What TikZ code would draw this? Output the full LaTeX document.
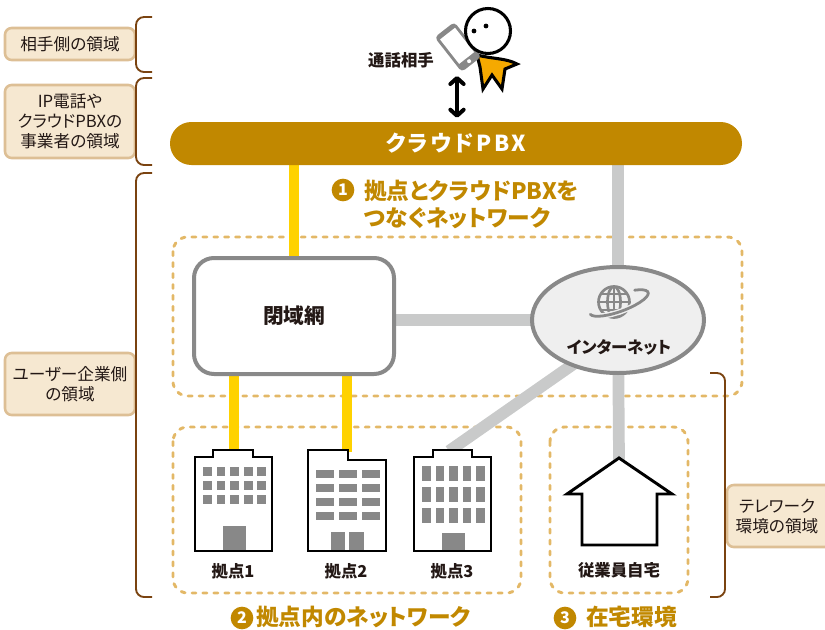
\documentclass[tikz,border=0pt]{standalone}
\usepackage{fontspec}
\setmainfont{Noto Sans CJK JP}[RawFeature=+palt]
\usetikzlibrary{arrows.meta,shapes.geometric,calc}
\pgfdeclarelayer{back}
\pgfdeclarelayer{links}
\pgfsetlayers{back,links,main}

\definecolor{pbxbrown}{HTML}{C18800}
\definecolor{ink}{HTML}{231815}
\definecolor{dashtan}{HTML}{E3B867}
\definecolor{tagfill}{HTML}{F6E8D1}
\definecolor{tagline}{HTML}{DDBF95}
\definecolor{bracebrown}{HTML}{7A4310}
\definecolor{linkyellow}{HTML}{FFD200}
\definecolor{linkgrey}{HTML}{C9CACA}
\definecolor{boxgrey}{HTML}{898989}
\definecolor{wingrey}{HTML}{888888}
\definecolor{netfill}{HTML}{EFEFEF}
\definecolor{bodyorange}{HTML}{F5A900}

\tikzset{
  tag/.style={draw=tagline, fill=tagfill, line width=1.9pt, rounded corners=5pt,
    minimum width=97.5pt, inner sep=0pt, align=center, text=ink,
    font=\fontsize{12.5}{15}\selectfont},
  brace/.style={draw=bracebrown, line width=1.4pt, rounded corners=6pt},
  zone/.style={draw=dashtan, line width=2.2pt, line cap=round,
    dash pattern=on 3pt off 5.2pt, rounded corners=11pt},
  yellowlink/.style={draw=linkyellow, line width=8.2pt},
  greylink/.style={draw=linkgrey, line width=8.8pt},
  heading/.style={text=pbxbrown, align=left, inner sep=0pt,
    font=\bfseries\fontsize{17}{20.5}\selectfont},
  numdot/.style={circle, fill=pbxbrown, text=white, minimum size=17pt, inner sep=0pt,
    font=\bfseries\fontsize{12}{12}\selectfont},
  caption/.style={text=ink, inner sep=0pt, font=\bfseries\fontsize{12.3}{14}\selectfont},
  building/.style={draw=black, fill=white, line width=2pt, line join=miter},
  pane/.style={fill=wingrey},
}

\begin{document}
\begin{tikzpicture}[x=0.75pt, y=-0.75pt]
\useasboundingbox (0,0) rectangle (825,629);
\clip (0,0) rectangle (825,629);

% ---------- side tags and brackets ----------
\node[tag, minimum height=24pt] (tagpeer) at (70,44) {相手側の領域};
\node[tag, minimum height=54.75pt] (tagvendor) at (70,121.5) {IP電話や\\クラウドPBXの\\事業者の領域};
\node[tag, minimum height=46.5pt] (taguser) at (70,384) {ユーザー企業側\\の領域};
\node[tag, minimum width=90pt, minimum height=46.5pt] (tagtele) at (787,516) {};
\node[text=ink, align=center, inner sep=0pt, font=\fontsize{12.5}{15}\selectfont] (tagteletext) at (777,516) {テレワーク\\環境の領域};

\draw[brace] (152,17) -- (136,17) -- (136,72) -- (152,72);
\draw[brace] (152,78) -- (136,78) -- (136,165) -- (152,165);
\draw[brace] (152,173) -- (136,173) -- (136,597) -- (152,597);
\draw[brace] (710,373) -- (725,373) -- (725,597) -- (710,597);

% ---------- dashed zones ----------
\begin{pgfonlayer}{back}
\draw[zone] (173,237) rectangle (742,396);
\draw[zone] (173,427) rectangle (521,593);
\draw[zone] (550,427) rectangle (688,593);
\end{pgfonlayer}

% ---------- main nodes ----------
\node[fill=pbxbrown, rounded corners=16pt, minimum width=429pt, minimum height=32.25pt,
  text=white, font=\bfseries\fontsize{16.5}{16.5}\selectfont] (pbx) at (456,143.5)
  {\addfontfeatures{LetterSpace=12}クラウドPBX};

\node[draw=boxgrey, fill=white, line width=3pt, rounded corners=15pt,
  minimum width=150pt, minimum height=87pt, text=ink,
  font=\bfseries\fontsize{15.5}{16}\selectfont] (closed) at (294,316) {閉域網};

\node[ellipse, draw=boxgrey, fill=netfill, line width=3pt, minimum width=129pt,
  minimum height=79.5pt, inner sep=0pt] (inet) at (618,320) {};
\node[text=ink, inner sep=0pt, font=\bfseries\fontsize{12.3}{14}\selectfont] (inetlabel) at (619,347) {インターネット};

% globe icon
\begin{scope}[draw=wingrey, line width=2pt]
  \draw (614,302) circle[radius=15.5];
  \draw (614,302) ellipse[x radius=6.5, y radius=15.5];
  \draw (614,286.5) -- (614,317.5);
  \draw (598.5,302) -- (629.5,302);
  \draw (601,294) -- (627,294);
  \draw (601,310) -- (627,310);
  \begin{scope}[shift={(619,303)}, rotate=20]
    \draw[netfill, line width=4.2pt] (160:31 and 8.5) arc[start angle=160, end angle=-45, x radius=31, y radius=8.5];
    \draw[line width=2.1pt, line cap=round] (174:31 and 8.5) arc[start angle=174, end angle=-52, x radius=31, y radius=8.5];
  \end{scope}
\end{scope}

% ---------- caller ----------
\node[caption] (callerlabel) at (401,60) {通話相手};
\draw[fill=bodyorange, line width=2.3pt, line join=miter, miter limit=4]
  (477,55) .. controls (492,59) and (506,58) .. (517,64)
  -- (505,69) -- (502,89) -- (492,75) -- (483,89) -- (480,67) -- cycle;
\begin{scope}[shift={(458,47)}, rotate=38]
  \fill[wingrey, rounded corners=3pt] (-12.5,-22) rectangle (12.5,22);
  \fill[white] (-9.5,-17) rectangle (9.5,14);
  \fill[white] (0,18) circle[radius=2];
\end{scope}
\draw[fill=white, line width=2.3pt] (488,31) circle[radius=22.5];
\fill (474,31) circle[radius=2.4];
\fill (486,26) circle[radius=2.4];
\coordinate (callpoint) at (457,76);

% ---------- buildings ----------
\draw[building] (195,551) -- (195,457) -- (213,457) -- (213,450) -- (253,450)
  -- (253,457) -- (272,457) -- (272,551) -- cycle;
\foreach \i in {0,...,4} \foreach \j in {0,1,2}
  \fill[pane] ({203+13.6*\i},{467+14*\j}) rectangle ++(8.8,8.5);
\fill[pane] (223,526) rectangle (246,550);
\coordinate (roofone) at (234,450);
\node[caption] (siteone) at (233,571) {拠点1};

\draw[building] (308,551) -- (308,450) -- (348,450) -- (348,460)
  -- (386,460) -- (386,551) -- cycle;
\foreach \x in {316,339,362} \foreach \j in {0,...,3}
  \fill[pane] (\x,{470+14*\j}) rectangle ++(18,8);
\fill[pane] (331,532) rectangle (345,550);
\fill[pane] (349,532) rectangle (364,550);
\coordinate (rooftwo) at (347,452);
\node[caption] (sitetwo) at (346,571) {拠点2};

\draw[building] (414,551) -- (414,457) -- (433,457) -- (433,450) -- (472,450)
  -- (472,457) -- (491,457) -- (491,551) -- cycle;
\foreach \i in {0,...,4} \foreach \j in {0,1,2}
  \fill[pane] ({422+13.6*\i},{466+21*\j}) rectangle ++(8.5,15);
\fill[pane] (442,533) rectangle (465,550);
\coordinate (roofthree) at (449,451);
\node[caption] (sitethree) at (452,571) {拠点3};

% ---------- home ----------
\draw[fill=white, line width=2.2pt, line join=miter]
  (582,545) -- (582,494) -- (567,494) -- (619,458) -- (672,494) -- (657,494)
  -- (657,545) -- cycle;
\coordinate (homeapex) at (619,460);
\node[caption] (homelabel) at (619,570) {従業員自宅};

% ---------- connectors ----------
\begin{pgfonlayer}{links}
\draw[yellowlink] (closed.north) -- (closed.north |- pbx.south);
\draw[yellowlink] (closed.south -| roofone) -- (roofone);
\draw[yellowlink] (closed.south -| rooftwo) -- (rooftwo);
\draw[greylink] (inet.center) -- (inet.center |- pbx.south);
\draw[greylink] (closed.east |- inet.center) -- (inet.center);
\draw[greylink] ($(inet.center)+(0,13)$) -- (roofthree);
\draw[greylink] (inet.center) -- (homeapex);
\end{pgfonlayer}
\draw[line width=3pt, Straight Barb-Straight Barb, arrows={[length=4.5pt, width=10pt, line cap=round, line join=round]}]
  (callpoint) -- ([yshift=3pt]pbx.north -| callpoint);

% ---------- headings ----------
\node[numdot] (numone) at (343,190) {1};
\node[heading, anchor=west] (headone) at (364,204.5) {拠点とクラウドPBXを\\つなぐネットワーク};
\node[numdot] (numtwo) at (242,618) {2};
\node[heading, anchor=west] (headtwo) at (256,617) {拠点内のネットワーク};
\node[numdot] (numthree) at (565,618) {3};
\node[heading, anchor=west] (headthree) at (586,617) {在宅環境};
\end{tikzpicture}
\end{document}
